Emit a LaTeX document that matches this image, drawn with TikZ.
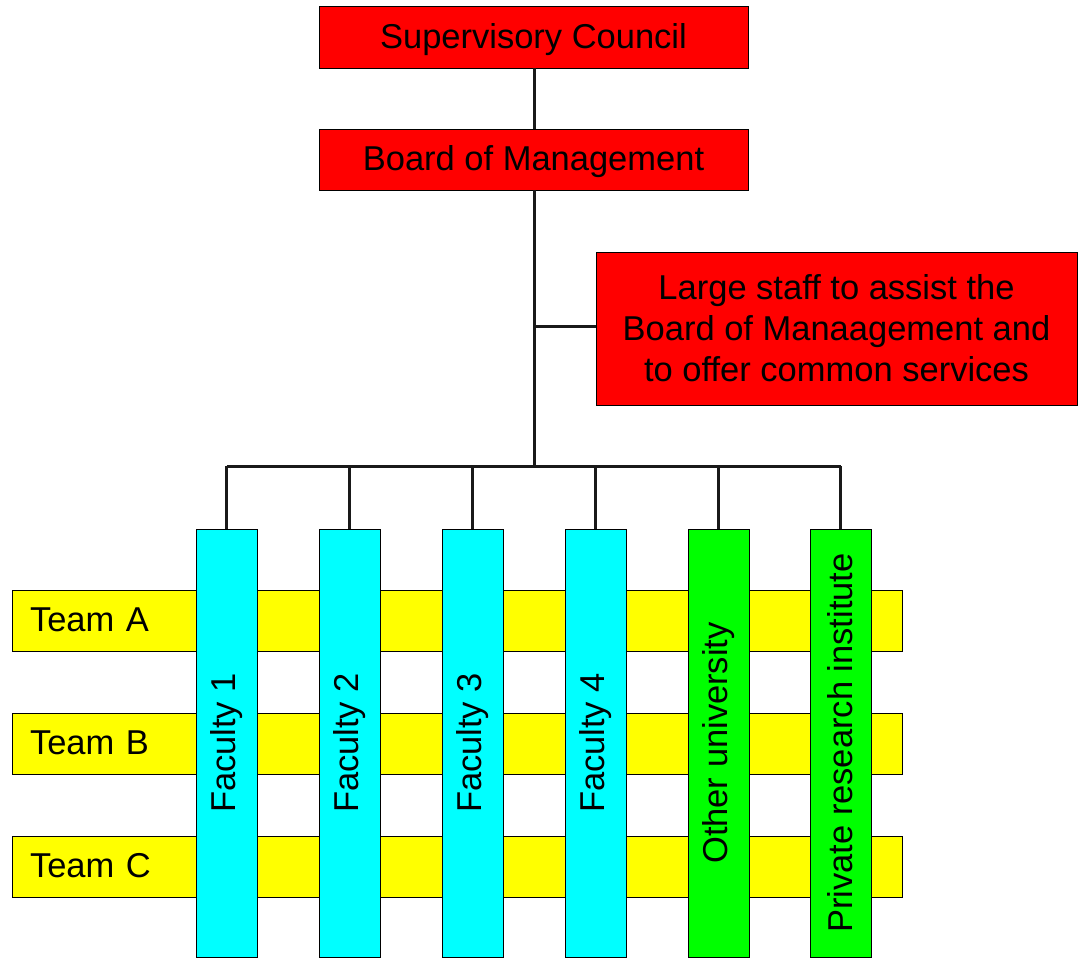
\documentclass[tikz,border=0pt]{standalone}
\usepackage{fontspec}
\setmainfont{Liberation Sans}
\definecolor{boxred}{RGB}{255,0,0}
\definecolor{boxcyan}{RGB}{0,255,255}
\definecolor{boxyellow}{RGB}{255,255,0}
\definecolor{boxgreen}{RGB}{0,255,0}
\begin{document}
\begin{tikzpicture}[x=1pt,y=-1pt,
  base/.style={draw=black, line width=1pt, inner sep=0pt, outer sep=0pt,
    font=\fontsize{34.5}{41}\selectfont},
  redbox/.style={base, fill=boxred, minimum width=429pt, minimum height=61pt, text height=29pt, text depth=7pt},
  staffbox/.style={base, fill=boxred, minimum width=481pt, minimum height=153pt, align=center},
  teambar/.style={base, fill=boxyellow, minimum width=890pt, minimum height=61pt, text width=854pt, align=left, text height=29pt, text depth=7pt},
  colbox/.style={base, minimum width=61pt, minimum height=428pt},
  faculty/.style={colbox, fill=boxcyan},
  partner/.style={colbox, fill=boxgreen},
  vtext/.style={rotate=90, font=\fontsize{34.5}{41}\selectfont, inner sep=0pt},
  conn/.style={line width=3pt, draw=black!90}
]
\useasboundingbox (0,0) rectangle (1078,958);

\node[redbox] (sc) at (533.5,37.5) {Supervisory Council};
\node[redbox] (bm) at (533.5,159.5) {Board of Management};
\node[staffbox] (staff) at (836.5,328.5) {Large staff to assist the\\Board of Manaagement and\\to offer common services};

\node[teambar] (ta) at (457,620.5) {Team A};
\node[teambar] (tb) at (457,743.5) {Team B};
\node[teambar] (tc) at (457,866.5) {Team C};

\node[faculty] (f1) at (226.5,743) {};
\node[faculty] (f2) at (349.5,743) {};
\node[faculty] (f3) at (472.5,743) {};
\node[faculty] (f4) at (595.5,743) {};
\node[partner] (ou) at (718.5,743) {};
\node[partner] (pr) at (840.5,743) {};
\node[vtext] (t1) at (f1) {Faculty 1};
\node[vtext] (t2) at (f2) {Faculty 2};
\node[vtext] (t3) at (f3) {Faculty 3};
\node[vtext] (t4) at (f4) {Faculty 4};
\node[vtext] (t5) at (ou) {Other university};
\node[vtext] (t6) at (pr) {Private research institute};

\coordinate (bus) at (534,466);
\coordinate (tap) at (534,326);
\draw[conn] (sc.south -| bus) -- (bm.north -| bus);
\draw[conn] (bm.south -| bus) -- (bus);
\draw[conn] (tap) -- (tap -| staff.west);
\draw[conn] (bus -| f1) -- (bus -| pr);
\foreach \c in {f1,f2,f3,f4,ou,pr}
  \draw[conn] (bus -| \c) -- (\c.north);
\end{tikzpicture}
\end{document}
